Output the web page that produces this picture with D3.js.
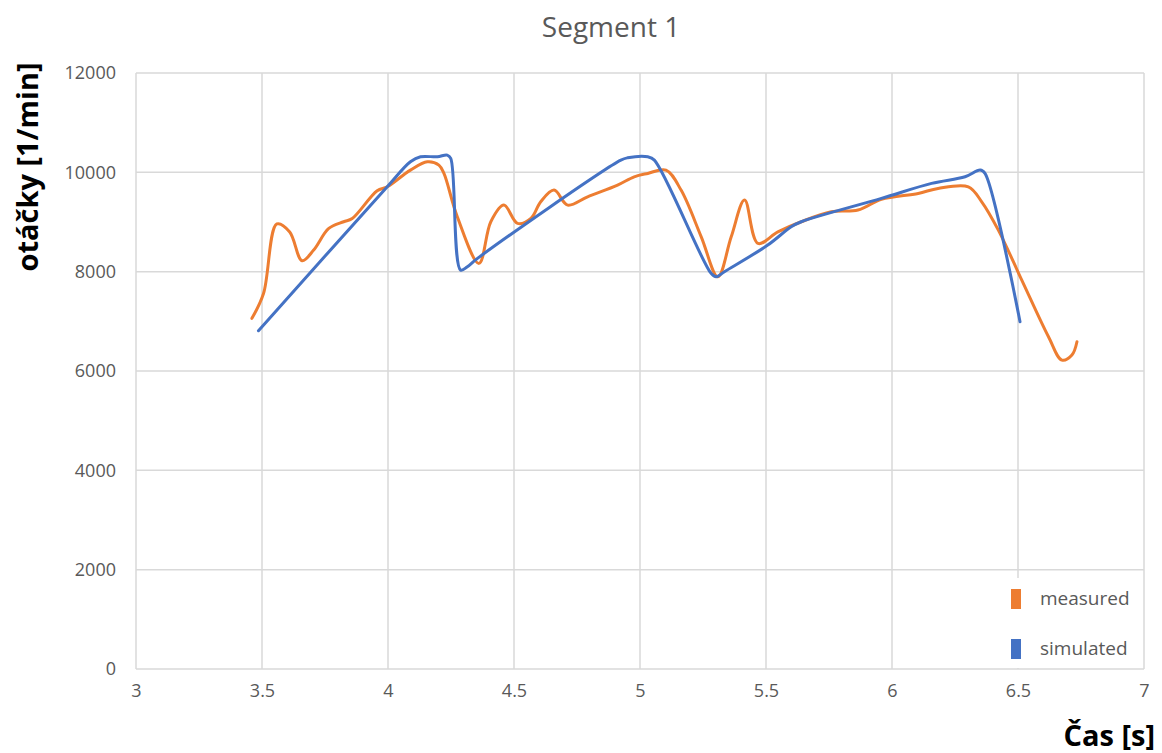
<!DOCTYPE html>
<html><head><meta charset="utf-8">
<script src="https://cdn.jsdelivr.net/npm/d3@7"></script>
<style>body{margin:0;background:#fff}svg{display:block}</style>
</head><body>
<svg id="c" width="1162" height="753"></svg>
<script>
const title = "Segment 1";
const xTicks = [3, 3.5, 4, 4.5, 5, 5.5, 6, 6.5, 7];
const yTicks = [0, 2000, 4000, 6000, 8000, 10000, 12000];
const seriesNames = ["measured", "simulated"];
const seriesColors = ["#ED7D31", "#4472C4"];
const measuredT = [3.46,3.506,3.559,3.61,3.659,3.705,3.765,3.824,3.858,3.957,3.997,4.089,4.156,4.202,4.222,4.275,4.361,4.408,4.46,4.514,4.567,4.606,4.659,4.713,4.792,4.911,4.977,5.031,5.103,5.163,5.243,5.309,5.362,5.415,5.468,5.547,5.64,5.759,5.865,5.958,6.104,6.183,6.303,6.356,6.422,6.515,6.621,6.674,6.714,6.734];
const measuredV = [7060,7560,8960,8800,8220,8435,8870,9005,9070,9630,9710,10045,10213,10146,9978,9105,8167,9005,9340,8972,9072,9407,9642,9340,9508,9743,9910,9978,10045,9642,8702,7897,8702,9441,8569,8800,9005,9206,9240,9455,9575,9676,9709,9407,8837,7830,6689,6220,6321,6589];
const simulatedT = [3.486,3.997,4.089,4.129,4.196,4.235,4.249,4.288,4.315,4.355,4.924,4.951,5.031,5.057,5.282,5.302,5.335,5.507,5.6,5.64,5.958,6.157,6.29,6.35,6.369,6.508];
const simulatedV = [6810,9709,10213,10313,10313,10347,10280,8032,8099,8267,10246,10293,10313,10246,7966,7897,8000,8535,8904,9005,9475,9777,9910,10045,9978,6991];

const svg = d3.select("#c");
const x = d3.scaleLinear().domain([3, 7]).range([136, 1144]);
const y = d3.scaleLinear().domain([0, 12000]).range([669, 73]);
const grid = "#d9d9d9";
const font = "'Open Sans', 'DejaVu Sans', sans-serif";

// gridlines
svg.append("g").selectAll("line").data(yTicks).join("line")
  .attr("x1", x(3)).attr("x2", x(7)).attr("y1", d => y(d)).attr("y2", d => y(d))
  .attr("stroke", grid).attr("stroke-width", 1.5);
svg.append("g").selectAll("line").data(xTicks).join("line")
  .attr("x1", d => x(d)).attr("x2", d => x(d)).attr("y1", y(0)).attr("y2", y(12000))
  .attr("stroke", grid).attr("stroke-width", 1.5);

// axes (labels only)
const yAxis = svg.append("g").attr("transform", `translate(${x(3)},0)`)
  .call(d3.axisLeft(y).tickValues(yTicks).tickSize(0).tickPadding(20).tickFormat(d3.format("d")));
yAxis.select(".domain").remove();
yAxis.selectAll("text").attr("font-family", font).attr("font-size", 18).attr("fill", "#595959");
const xAxis = svg.append("g").attr("transform", `translate(0,${y(0)})`)
  .call(d3.axisBottom(x).tickValues(xTicks).tickSize(0).tickPadding(15).tickFormat(d => String(d)));
xAxis.select(".domain").remove();
xAxis.selectAll("text").attr("font-family", font).attr("font-size", 18).attr("fill", "#595959");

// lines
const line = d3.line().x(d => x(d[0])).y(d => y(d[1])).curve(d3.curveCatmullRom.alpha(0.5));
const data = [measuredT.map((t, i) => [t, measuredV[i]]), simulatedT.map((t, i) => [t, simulatedV[i]])];
data.forEach((pts, i) => {
  svg.append("path").datum(pts).attr("d", line).attr("fill", "none")
    .attr("stroke", seriesColors[i]).attr("stroke-width", 3).attr("stroke-linejoin", "round").attr("stroke-linecap", "round");
});

// legend
svg.append("rect").attr("x", 995).attr("y", 578).attr("width", x(7) - 996).attr("height", y(0) - 579).attr("fill", "#fff");
const lg = svg.append("g").selectAll("g").data(seriesNames).join("g")
  .attr("transform", (d, i) => `translate(1011,${589 + i * 50})`);
lg.append("rect").attr("width", 10).attr("height", 20).attr("fill", (d, i) => seriesColors[i]);
lg.append("text").attr("x", 29).attr("y", 16).text(d => d)
  .attr("font-family", font).attr("font-size", 19).attr("fill", "#595959");

// titles
svg.append("text").attr("x", 611).attr("y", 37).attr("text-anchor", "middle").text(title)
  .attr("font-family", font).attr("font-size", 28).attr("fill", "#595959");
svg.append("text").attr("transform", "translate(38,167) rotate(-90)").attr("text-anchor", "middle")
  .text("otáčky [1/min]").attr("font-family", font).attr("font-weight", "bold").attr("font-size", 29).attr("fill", "#000");
svg.append("text").attr("x", 1155).attr("y", 746).attr("text-anchor", "end").text("Čas [s]")
  .attr("font-family", font).attr("font-weight", "bold").attr("font-size", 29).attr("fill", "#000");
</script>
</body></html>
